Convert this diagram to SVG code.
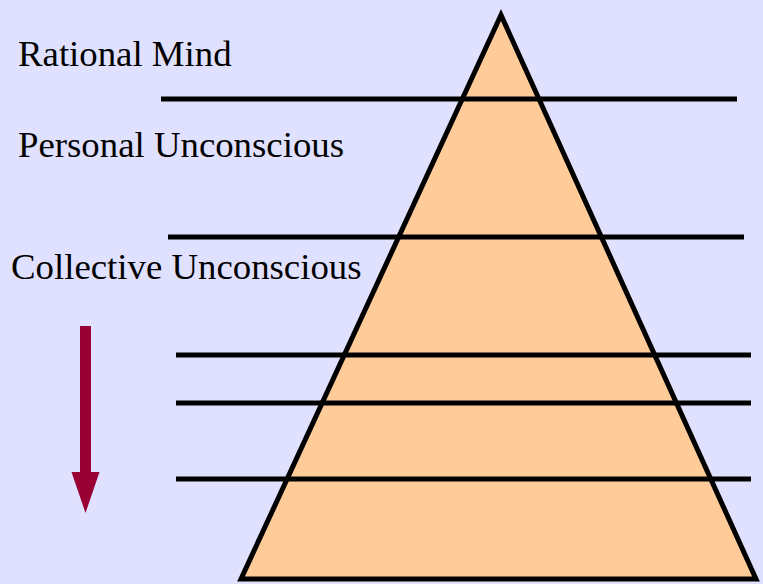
<svg xmlns="http://www.w3.org/2000/svg" width="763" height="584" viewBox="0 0 763 584">
<style>
.bg{fill:#E0E0FF}
.pyr{fill:#FFCC99;stroke:#000;stroke-width:5;stroke-linejoin:miter;stroke-miterlimit:10}
.lvl{stroke:#000;stroke-width:5;fill:none}
.lbl{font-family:"Liberation Serif","Times New Roman",serif;font-size:36.8px;fill:#000}
.arr{fill:#990033}
</style>
<rect class="bg" x="0" y="0" width="763" height="584"/>
<g id="pyramid">
<polygon class="pyr" points="501,15 241,579 756,579"/>
</g>
<g id="connectors">
<line class="lvl" x1="161" y1="99" x2="737" y2="99"/>
<line class="lvl" x1="168" y1="237" x2="744" y2="237"/>
<line class="lvl" x1="176" y1="355" x2="751" y2="355"/>
<line class="lvl" x1="176" y1="403" x2="751" y2="403"/>
<line class="lvl" x1="176" y1="479" x2="751" y2="479"/>
</g>
<g id="label-rational">
<text class="lbl" x="18" y="66">Rational Mind</text>
</g>
<g id="label-personal">
<text class="lbl" x="18" y="157">Personal Unconscious</text>
</g>
<g id="label-collective">
<text class="lbl" x="11" y="279">Collective Unconscious</text>
</g>
<g id="arrow">
<polygon class="arr" points="80,326 91,326 91,472 99.5,472 85.5,513 71.5,472 80,472"/>
</g>
</svg>
